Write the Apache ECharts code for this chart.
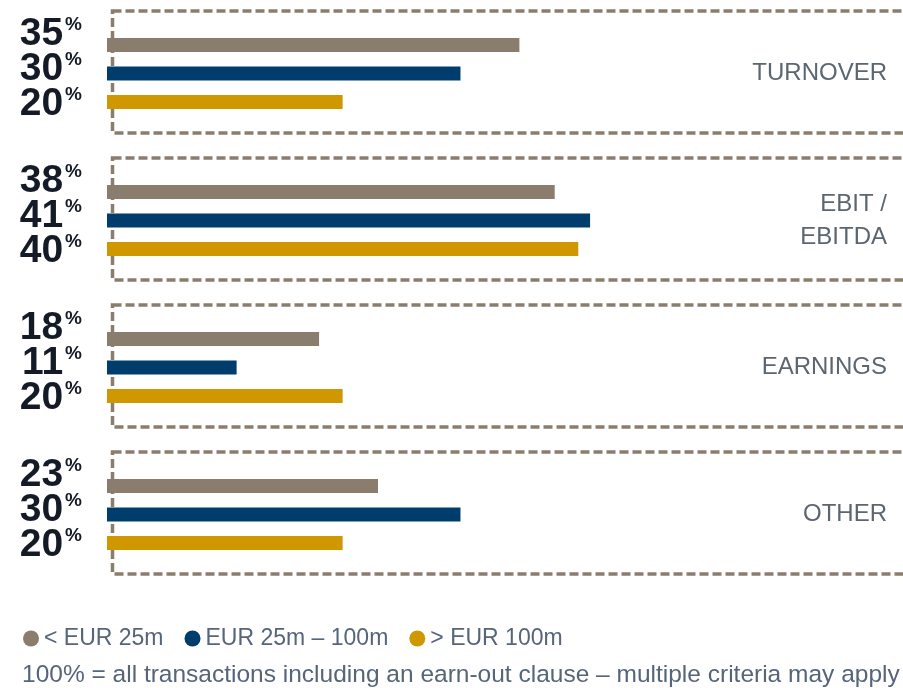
<!DOCTYPE html>
<html><head><meta charset="utf-8">
<script src="https://cdn.jsdelivr.net/npm/echarts@6/dist/echarts.min.js"></script>
<style>html,body{margin:0;padding:0;background:#fff}#c{width:903px;height:688px}</style>
</head><body><div id="c"></div>
<script>
const categories = ['TURNOVER', 'EBIT /\nEBITDA', 'EARNINGS', 'OTHER'];
const seriesNames = ['< EUR 25m', 'EUR 25m – 100m', '> EUR 100m'];
const valuesSmall = [35, 38, 18, 23];
const valuesMid = [30, 41, 11, 30];
const valuesLarge = [20, 40, 20, 20];
const footnote = '100% = all transactions including an earn-out clause – multiple criteria may apply';

const colors = ['#8b7d6e', '#003c6c', '#d09800'];
const labelOffsets = [-11, -4, 2];
const sans = '"Liberation Sans", Arial, sans-serif';

const chart = echarts.init(document.getElementById('c'), null, {renderer: 'canvas'});

function barSeries(name, data, idx) {
  return {
    name: name,
    type: 'bar',
    data: data,
    barWidth: 14,
    barGap: '104%',
    z: 3,
    itemStyle: {color: colors[idx]},
    label: {
      show: true,
      position: 'left',
      distance: 25,
      offset: [0, labelOffsets[idx]],
      formatter: p => '{n|' + p.value + '}{p|%}',
      rich: {
        n: {fontFamily: sans, fontWeight: 'bold', fontSize: 39, lineHeight: 38, color: '#141a26'},
        p: {fontFamily: sans, fontWeight: 'bold', fontSize: 19, color: '#141a26', verticalAlign: 'top', padding: [0, 0, 0, 2]}
      }
    }
  };
}

const option = {
  animation: false,
  backgroundColor: '#ffffff',
  title: {
    text: footnote,
    left: 17,
    top: 658,
    textStyle: {fontFamily: sans, fontSize: 24.5, fontWeight: 'normal', color: '#56657a'}
  },
  legend: {
    data: seriesNames,
    left: 18,
    top: 622,
    icon: 'circle',
    itemWidth: 16,
    itemHeight: 16,
    itemGap: 21,
    textStyle: {fontFamily: sans, fontSize: 23, color: '#56657a'}
  },
  grid: {left: 107, right: 16, top: 0, height: 588, containLabel: false},
  xAxis: {type: 'value', min: 0, max: 66.2, show: false},
  yAxis: {
    type: 'category',
    data: categories,
    inverse: true,
    position: 'right',
    axisLine: {show: false},
    axisTick: {show: false},
    splitLine: {show: false},
    axisLabel: {inside: true, margin: 0, fontFamily: sans, fontSize: 24, lineHeight: 33, color: '#5b6670'}
  },
  series: [
    {
      type: 'custom',
      silent: true,
      z: 1,
      data: categories.map((c, i) => [0, i]),
      encode: {x: 0, y: 1},
      renderItem: (params, api) => {
        const p = api.coord([0, api.value(1)]);
        return {
          type: 'rect',
          shape: {x: p[0] + 5.5, y: p[1] - 62.5, width: 900, height: 122},
          style: {fill: 'none', stroke: '#8b7d6e', lineWidth: 3.5, lineDash: [9, 4]}
        };
      }
    },
    barSeries(seriesNames[0], valuesSmall, 0),
    barSeries(seriesNames[1], valuesMid, 1),
    barSeries(seriesNames[2], valuesLarge, 2)
  ]
};
chart.setOption(option);
</script></body></html>
